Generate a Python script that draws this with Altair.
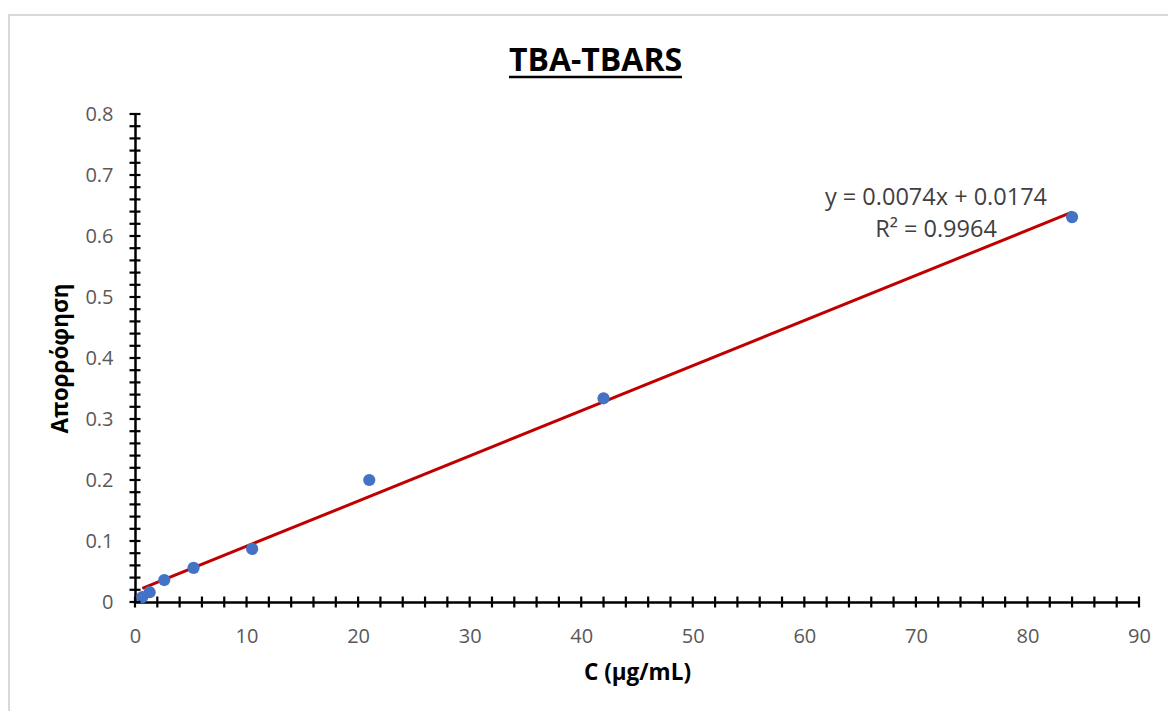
import altair as alt
import pandas as pd

# ---- data ----
conc = [0.65625, 1.3125, 2.625, 5.25, 10.5, 21, 42, 84]
absorb = [0.008, 0.016, 0.036, 0.056, 0.087, 0.200, 0.334, 0.631]
slope = 0.0074
intercept = 0.0174
eq_lines = ["y = 0.0074x + 0.0174", "R² = 0.9964"]
x_major = [0, 10, 20, 30, 40, 50, 60, 70, 80, 90]
y_major = [0, 0.1, 0.2, 0.3, 0.4, 0.5, 0.6, 0.7, 0.8]
x_minor = list(range(0, 91, 2))
y_minor = [round(i * 0.02, 2) for i in range(41)]
chart_title = "TBA-TBARS"
x_title = "C (μg/mL)"
y_title = "Απορρόφηση"

FONT = "Open Sans"
W, H = 1004, 488

pts = pd.DataFrame({"c": conc, "a": absorb})
xmin, xmax = min(conc), max(conc)
trend = pd.DataFrame({"c": [xmin, xmax],
                      "a": [slope * xmin + intercept, slope * xmax + intercept]})
xt = pd.DataFrame({"c": x_minor})
yt = pd.DataFrame({"a": y_minor})
one = pd.DataFrame({"t": [chart_title]})
eq = pd.DataFrame({"t": eq_lines})

xs = alt.Scale(domain=[0, 90], nice=False, zero=True)
ys = alt.Scale(domain=[0, 0.8], nice=False, zero=True)

xaxis = alt.Axis(
    values=x_major, format="d", grid=False, ticks=False, tickSize=0,
    domain=True, domainColor="black", domainWidth=2.5,
    labelFont=FONT, labelFontSize=20, labelColor="#595959",
    labelBaseline="alphabetic", labelPadding=40, labelFlush=False,
    title=x_title, titleFont=FONT, titleFontSize=22.5, titleFontWeight="bold",
    titleColor="#000000", titleBaseline="alphabetic", titleX=W / 2, titleY=77,
    titleAlign="center")
yaxis = alt.Axis(
    values=y_major, format=".1~f", grid=False, ticks=False, tickSize=0,
    domain=True, domainColor="black", domainWidth=2.5,
    labelFont=FONT, labelFontSize=20, labelColor="#595959",
    labelPadding=22, labelFlush=False,
    title=y_title, titleFont=FONT, titleFontSize=22.5, titleFontWeight="bold",
    titleColor="#000000", titleBaseline="alphabetic", titleX=-68, titleY=H / 2,
    titleAngle=-90, titleAlign="center")

border = alt.Chart(one).mark_rect(fill="transparent", stroke="#D9D9D9", strokeWidth=2).encode(
    x=alt.value(-126), x2=alt.value(1100), y=alt.value(-99), y2=alt.value(700)
)

points = alt.Chart(pts).mark_circle(size=150, color="#4472C4", opacity=1).encode(
    x=alt.X("c:Q", scale=xs, axis=xaxis),
    y=alt.Y("a:Q", scale=ys, axis=yaxis),
)

line = alt.Chart(trend).mark_line(color="#C00000", strokeWidth=3).encode(
    x=alt.X("c:Q", scale=xs, axis=xaxis), y=alt.Y("a:Q", scale=ys, axis=yaxis)
)

xticks = alt.Chart(xt).mark_tick(orient="vertical", size=11, thickness=2.2, color="black",
                                 opacity=1).encode(
    x=alt.X("c:Q", scale=xs, axis=xaxis), y=alt.value(H)
)
yticks = alt.Chart(yt).mark_tick(orient="horizontal", size=11, thickness=2.2, color="black",
                                 opacity=1).encode(
    y=alt.Y("a:Q", scale=ys, axis=yaxis), x=alt.value(0)
)

TX = 460.5
title_txt = alt.Chart(one).mark_text(font=FONT, fontSize=32, fontWeight="bold", color="#000000",
                                     baseline="alphabetic", align="center").encode(
    text="t:N", x=alt.value(TX), y=alt.value(-43)
)
underline = alt.Chart(one).mark_rule(color="#000000", strokeWidth=2.5).encode(
    x=alt.value(TX - 86.5), x2=alt.value(TX + 86.5), y=alt.value(-37)
)

eq_txt = alt.Chart(eq).transform_window(i="row_number()").transform_calculate(
    py="datum.i == 1 ? 91 : 123"
).mark_text(font=FONT, fontSize=23.5, color="#404040", baseline="alphabetic", align="center").encode(
    text="t:N", x=alt.value(801), y=alt.Y("py:Q", scale=None, axis=None)
)

chart = alt.layer(border, line, points, xticks, yticks, title_txt, underline, eq_txt).properties(
    width=W, height=H,
    autosize=alt.AutoSizeParams(type="none"),
    padding={"left": 135, "top": 114, "right": 29, "bottom": 109},
    background="white",
).configure_view(strokeWidth=0)

chart.save("out.html", embed_options={"renderer": "svg", "actions": False})
